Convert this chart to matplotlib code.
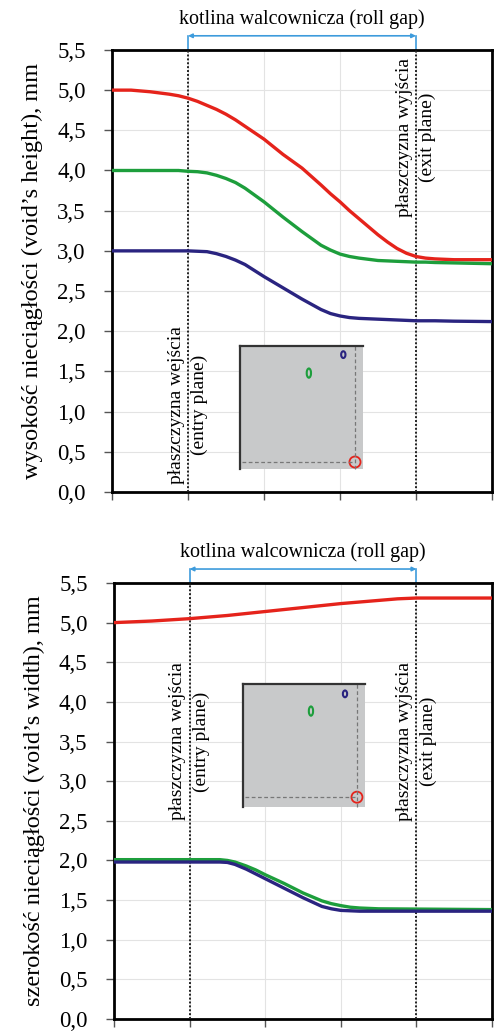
import numpy as np
import matplotlib.pyplot as plt
from matplotlib.patches import Ellipse

plt.rcParams["font.family"] = ["Liberation Serif", "DejaVu Serif"]

# position along the rolling direction (entry plane at 1, exit plane at 4)
x_h = [0.0, 0.25, 0.5, 0.75, 0.875, 1.0, 1.125, 1.25, 1.375, 1.5, 1.625, 1.75, 2.0, 2.25,
       2.5, 2.75, 2.875, 3.0, 3.125, 3.25, 3.375, 3.5, 3.625, 3.75, 3.875, 4.0, 4.125,
       4.25, 4.5, 5.0]
height_red = [5.00, 5.00, 4.98, 4.95, 4.93, 4.90, 4.86, 4.81, 4.76, 4.70, 4.63, 4.55, 4.39, 4.20,
              4.03, 3.82, 3.71, 3.61, 3.50, 3.40, 3.30, 3.20, 3.11, 3.03, 2.97, 2.93, 2.91,
              2.90, 2.89, 2.89]
height_green = [4.00, 4.00, 4.00, 4.00, 4.00, 3.99, 3.985, 3.97, 3.94, 3.90, 3.85, 3.78, 3.61, 3.42,
                3.24, 3.07, 3.01, 2.96, 2.93, 2.91, 2.895, 2.88, 2.875, 2.87, 2.865, 2.86, 2.86,
                2.855, 2.85, 2.84]
height_blue = [3.00, 3.00, 3.00, 3.00, 3.00, 3.00, 2.995, 2.99, 2.965, 2.93, 2.885, 2.83, 2.68, 2.54,
               2.40, 2.27, 2.22, 2.19, 2.17, 2.16, 2.155, 2.15, 2.145, 2.14, 2.135, 2.13, 2.13,
               2.13, 2.125, 2.12]

x_w_red = [0.0, 0.5, 1.0, 1.5, 2.0, 2.5, 3.0, 3.5, 3.75, 4.0, 5.0]
width_red = [5.00, 5.02, 5.05, 5.09, 5.14, 5.19, 5.24, 5.28, 5.30, 5.31, 5.31]
x_w = [0.0, 1.0, 1.4, 1.5, 1.6, 1.75, 1.875, 2.0, 2.25, 2.5, 2.75, 2.875, 3.0, 3.125,
       3.25, 3.5, 5.0]
width_green = [2.01, 2.01, 2.01, 2.00, 1.98, 1.93, 1.88, 1.82, 1.71, 1.59, 1.49, 1.455, 1.43, 1.41,
               1.40, 1.39, 1.38]
width_blue = [1.98, 1.98, 1.98, 1.975, 1.95, 1.89, 1.83, 1.77, 1.65, 1.53, 1.42, 1.39, 1.37, 1.365,
              1.36, 1.36, 1.36]

entry_x, exit_x = 1.0, 4.0
y_ticks = [0.0, 0.5, 1.0, 1.5, 2.0, 2.5, 3.0, 3.5, 4.0, 4.5, 5.0, 5.5]
y_ticklabels = [f"{v:.1f}".replace(".", ",") for v in y_ticks]

RED, GREEN, BLUE = "#e5231b", "#1d9e3c", "#2a2480"
ARROW = "#3d9bdc"

fig = plt.figure(figsize=(4.95, 10.32), dpi=100)
ax_top = fig.add_axes([0.2263, 0.5233, 0.7676, 0.4283])
ax_bot = fig.add_axes([0.2303, 0.0126, 0.7636, 0.4225])


def style_axes(ax, ylabel):
    ax.set_xlim(0, 5)
    ax.set_ylim(0, 5.5)
    ax.set_xticks(range(6))
    ax.set_xticklabels([])
    ax.set_yticks(y_ticks)
    ax.set_yticklabels(y_ticklabels)
    ax.tick_params(direction="out", length=6, width=1, color="#555555",
                   labelsize=16.5, pad=13)
    ax.grid(True, color="#e3e3e3", lw=0.8)
    ax.set_axisbelow(True)
    for s in ax.spines.values():
        s.set_linewidth(2.0)
        s.set_color("black")
    ax.set_ylabel(ylabel, fontsize=17.5, labelpad=10)
    # entry / exit planes
    for xv in (entry_x, exit_x):
        ax.axvline(xv, color="#222222", lw=1.4, ls=(0, (1, 1)), zorder=3)
    # roll gap arrow above the axes
    tr = ax.get_xaxis_transform()
    ax.annotate("", xy=(exit_x, 1.032), xytext=(entry_x, 1.032), xycoords=tr,
                textcoords=tr, annotation_clip=False,
                arrowprops=dict(arrowstyle="<|-|>", color=ARROW, lw=1.2,
                                mutation_scale=6, shrinkA=0, shrinkB=0))
    for xv in (entry_x, exit_x):
        ax.plot([xv, xv], [1.0, 1.032], transform=tr, color=ARROW, lw=1.2,
                clip_on=False)
    ax.text((entry_x + exit_x) / 2, 1.07, "kotlina walcownicza (roll gap)",
            transform=tr, ha="center", va="center", fontsize=14.5)


def plane_label(ax, xv, yv, text):
    ax.text(xv, yv, text, rotation=90, ha="center", va="center",
            multialignment="center", fontsize=14, linespacing=1.5, zorder=4)


style_axes(ax_top, "wysokość nieciągłości (void’s height), mm")
ax_top.plot(x_h, height_red, color=RED, lw=2.4, zorder=5)
ax_top.plot(x_h, height_green, color=GREEN, lw=2.4, zorder=5)
ax_top.plot(x_h, height_blue, color=BLUE, lw=2.4, zorder=5)
plane_label(ax_top, entry_x, 1.08, "płaszczyzna wejścia\n(entry plane)")
plane_label(ax_top, exit_x, 4.41, "płaszczyzna wyjścia\n(exit plane)")

style_axes(ax_bot, "szerokość nieciągłości (void’s width), mm")
ax_bot.plot(x_w_red, width_red, color=RED, lw=2.4, zorder=5)
ax_bot.plot(x_w, width_green, color=GREEN, lw=2.4, zorder=5)
ax_bot.plot(x_w, width_blue, color=BLUE, lw=2.4, zorder=5)
plane_label(ax_bot, entry_x, 3.5, "płaszczyzna wejścia\n(entry plane)")
plane_label(ax_bot, exit_x, 3.5, "płaszczyzna wyjścia\n(exit plane)")


def void_sketch(rect, vx, hy, blue_xy, green_xy):
    ins = fig.add_axes(rect, zorder=6)
    ins.set_xlim(0, 1)
    ins.set_ylim(0, 1)
    ins.set_facecolor("#c8c9ca")
    ins.set_xticks([])
    ins.set_yticks([])
    for side in ("right", "bottom"):
        ins.spines[side].set_visible(False)
    for side in ("left", "top"):
        ins.spines[side].set_linewidth(1.6)
        ins.spines[side].set_color("#333333")
    ins.plot([vx, vx], [0, 1.02], color="#777777", lw=0.9, ls=(0, (3, 2)),
             clip_on=False)
    ins.plot([0.02, vx], [hy, hy], color="#777777", lw=0.9, ls=(0, (3, 2)))
    ins.add_patch(Ellipse((vx, hy), 0.09, 0.09, fill=False, ec=RED, lw=1.3,
                          clip_on=False))
    ins.add_patch(Ellipse(blue_xy, 0.035, 0.055, fill=False, ec=BLUE, lw=1.5))
    ins.add_patch(Ellipse(green_xy, 0.035, 0.075, fill=False, ec=GREEN, lw=1.5))


void_sketch([0.4848, 0.5455, 0.2485, 0.1192], 0.935, 0.057, (0.84, 0.93), (0.56, 0.78))
void_sketch([0.4909, 0.2180, 0.2465, 0.1192], 0.934, 0.08, (0.836, 0.92), (0.557, 0.78))

fig.savefig("out.png", dpi=100)
